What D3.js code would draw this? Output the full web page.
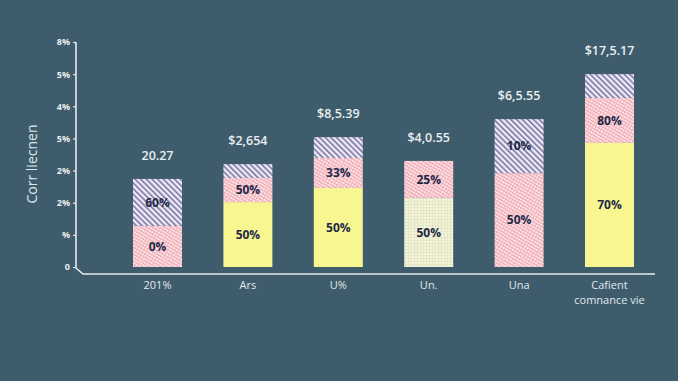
<!DOCTYPE html>
<html>
<head>
<meta charset="utf-8">
<script src="https://cdn.jsdelivr.net/npm/d3@7"></script>
<style>
  html, body { margin: 0; padding: 0; background: #3e5c6b; }
  svg { display: block; }
</style>
</head>
<body>
<svg id="chart" width="678" height="381"></svg>
<script>
// data
let categories = ["201%", "Ars", "U%", "Un.", "Una", "Cafient|comnance vie"];
let totals = ["20.27", "$2,654", "$8,5.39", "$4,0.55", "$6,5.55", "$17,5.17"];
let yTickValues = [0, 1, 2, 3, 4, 5, 6, 7];
let yTickLabels = ["0", "%", "2%", "2%", "5%", "4%", "5%", "8%"];

// stacked segments, bottom to top
let yellowVals = [0, 2.02, 2.46, 0, 0, 3.86];
let creamVals  = [0, 0, 0, 2.15, 0, 0];
let pinkVals   = [1.28, 0.75, 0.93, 1.15, 2.92, 1.40];
let purpleVals = [1.46, 0.43, 0.65, 0, 1.68, 0.74];

let yellowLabels = ["", "50%", "50%", "", "", "70%"];
let creamLabels  = ["", "", "", "50%", "", ""];
let pinkLabels   = ["0%", "50%", "33%", "25%", "50%", "80%"];
let purpleLabels = ["60%", "", "", "", "10%", ""];

let seriesKeys = ["yellow", "cream", "pink", "purple"];

window.onload = function() {
    var svg = d3.select("#chart");

    var defs = svg.append("defs");

    // purple diagonal hatch
    var pp = defs.append("pattern")
        .attr("id", "purpleHatch")
        .attr("width", 4).attr("height", 4)
        .attr("patternUnits", "userSpaceOnUse")
        .attr("patternTransform", "rotate(-45)");
    pp.append("rect").attr("width", 4).attr("height", 4).style("fill", "#efebf2");
    pp.append("rect").attr("width", 1.5).attr("height", 4).style("fill", "#736ea3");

    // pink mesh
    var pk = defs.append("pattern")
        .attr("id", "pinkMesh")
        .attr("width", 3).attr("height", 3)
        .attr("patternUnits", "userSpaceOnUse")
        .attr("patternTransform", "rotate(30)");
    pk.append("rect").attr("width", 3).attr("height", 3).style("fill", "#fde6e9");
    pk.append("rect").attr("width", 3).attr("height", 0.9).style("fill", "#ee9fa9");
    pk.append("rect").attr("width", 0.9).attr("height", 3).style("fill", "#f2b1b9");

    // cream grid
    var cr = defs.append("pattern")
        .attr("id", "creamGrid")
        .attr("width", 3).attr("height", 3)
        .attr("patternUnits", "userSpaceOnUse");
    cr.append("rect").attr("width", 3).attr("height", 3).style("fill", "#f3f4da");
    cr.append("rect").attr("width", 3).attr("height", 0.7).style("fill", "#e0e3c0");
    cr.append("rect").attr("width", 0.7).attr("height", 3).style("fill", "#e0e3c0");

    let fills = {
        yellow: "#f8f690",
        cream: "url(#creamGrid)",
        pink: "url(#pinkMesh)",
        purple: "url(#purpleHatch)"
    };
    let labelSets = {
        yellow: yellowLabels,
        cream: creamLabels,
        pink: pinkLabels,
        purple: purpleLabels
    };

    var x = d3.scalePoint()
        .domain(categories)
        .range([157.5, 609.5]);
    var barW = 49;

    var y = d3.scaleLinear()
        .domain([0, 7])
        .range([267, 42]);

    let rows = categories.map(function(c, i) {
        return {
            cat: c,
            yellow: yellowVals[i],
            cream: creamVals[i],
            pink: pinkVals[i],
            purple: purpleVals[i]
        };
    });

    var stacked = d3.stack().keys(seriesKeys)(rows);

    // axes
    var axisColor = "#e4ecef";
    var y0 = y.range()[0], y1 = y.range()[1];
    var ax = 76;
    svg.append("path")
        .attr("d", "M" + ax + "," + y1 + " L" + ax + "," + (y0 + 1) +
                   " L" + (ax + 7) + "," + (y0 + 7) + " L655," + (y0 + 7))
        .style("fill", "none")
        .style("stroke", axisColor)
        .style("stroke-width", 1.6);

    var yAxis = d3.axisLeft(y)
        .tickValues(yTickValues)
        .tickSize(3)
        .tickPadding(3)
        .tickFormat(function(d, i) { return yTickLabels[i]; });

    var gy = svg.append("g")
        .attr("transform", "translate(" + ax + ",0)")
        .call(yAxis);
    gy.select(".domain").remove();
    gy.selectAll("line").style("stroke", axisColor).style("stroke-width", 1.2);
    gy.selectAll("text")
        .style("fill", "#e8eef1")
        .style("font-family", "'Open Sans', sans-serif")
        .style("font-size", "9px")
        .style("font-weight", 700);

    // y title
    svg.append("text")
        .attr("transform", "translate(37,164) rotate(-90)")
        .attr("text-anchor", "middle")
        .style("fill", "#dfe7eb")
        .style("font-family", "'Open Sans', sans-serif")
        .style("font-size", "14px")
        .text("Corr liecnen");

    // bars
    stacked.forEach(function(layer) {
        var key = layer.key;
        svg.append("g")
            .selectAll("rect")
            .data(layer)
            .join("rect")
            .attr("x", function(d) { return x(d.data.cat) - barW / 2; })
            .attr("y", function(d) { return y(d[1]); })
            .attr("width", barW)
            .attr("height", function(d) { return y(d[0]) - y(d[1]); })
            .style("fill", fills[key]);
    });

    // segment labels
    stacked.forEach(function(layer) {
        var key = layer.key;
        svg.append("g")
            .selectAll("text")
            .data(layer)
            .join("text")
            .attr("x", function(d) { return x(d.data.cat); })
            .attr("y", function(d) { return (y(d[0]) + y(d[1])) / 2; })
            .attr("dy", "0.35em")
            .attr("text-anchor", "middle")
            .style("fill", "#1d2949")
            .style("font-family", "'Open Sans', sans-serif")
            .style("font-size", "12px")
            .style("font-weight", 700)
            .text(function(d, i) { return labelSets[key][i]; });
    });

    // totals above bars
    var top = stacked[stacked.length - 1];
    svg.append("g")
        .selectAll("text")
        .data(top)
        .join("text")
        .attr("x", function(d) { return x(d.data.cat); })
        .attr("y", function(d) { return y(d[1]) - 19; })
        .attr("text-anchor", "middle")
        .style("fill", "#e9eff2")
        .style("font-family", "'Open Sans', sans-serif")
        .style("font-size", "12.5px")
        .style("font-weight", 600)
        .text(function(d, i) { return totals[i]; });

    // category labels
    var cl = svg.append("g")
        .selectAll("text")
        .data(categories)
        .join("text")
        .attr("x", function(d) { return x(d); })
        .attr("y", 289)
        .attr("text-anchor", "middle")
        .style("fill", "#e1e8eb")
        .style("font-family", "'Open Sans', sans-serif")
        .style("font-size", "11px");
    cl.each(function(d) {
        var parts = d.split("|");
        var t = d3.select(this);
        parts.forEach(function(p, j) {
            t.append("tspan")
                .attr("x", x(d))
                .attr("dy", j === 0 ? 0 : 15)
                .text(p);
        });
    });
};
</script>
</body>
</html>
